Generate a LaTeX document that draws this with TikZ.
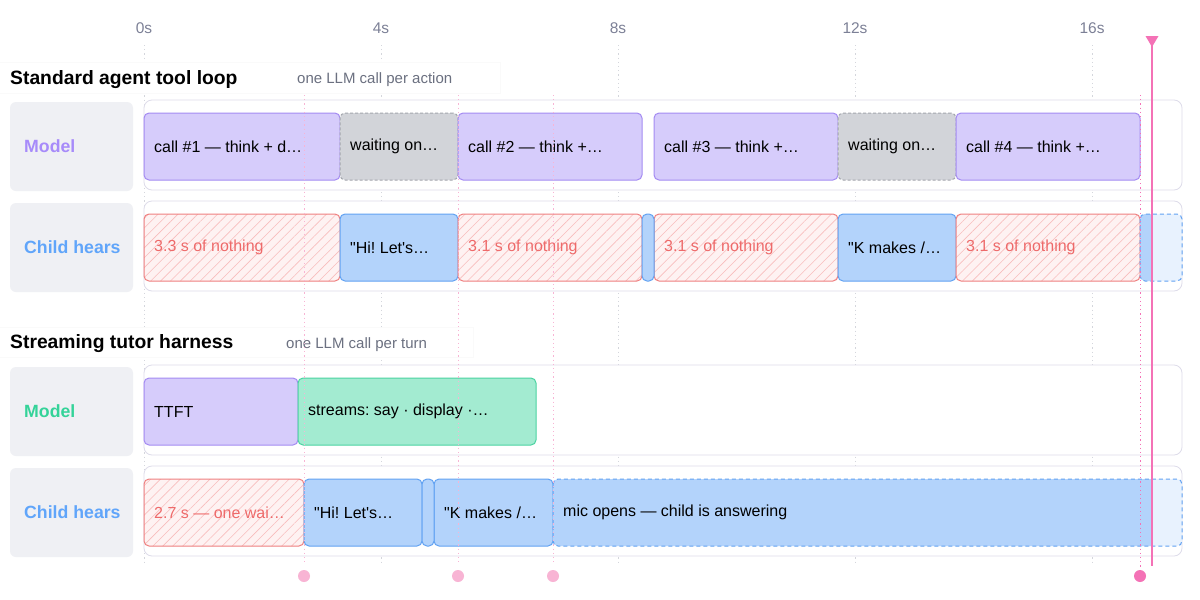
\documentclass[tikz,border=0pt]{standalone}
\usepackage{fontspec}
\setmainfont{Liberation Sans}[Ligatures=TeXOff]
\usetikzlibrary{patterns.meta}
\frenchspacing
\definecolor{callfill}{HTML}{D6CCFB}
\definecolor{calledge}{HTML}{A48BF2}
\definecolor{waitfill}{HTML}{D2D4D9}
\definecolor{waitedge}{HTML}{A3A6AD}
\definecolor{hearfill}{HTML}{B3D3FB}
\definecolor{hearedge}{HTML}{62A2F2}
\definecolor{livefill}{HTML}{E8F2FE}
\definecolor{streamfill}{HTML}{A3EBD1}
\definecolor{streamedge}{HTML}{4BD3A1}
\definecolor{gapfill}{HTML}{FEF2F2}
\definecolor{gaphatch}{HTML}{F8BDBD}
\definecolor{gapedge}{HTML}{EF8080}
\definecolor{gaptext}{HTML}{EE6A6A}
\definecolor{lanefill}{HTML}{EFF0F4}
\definecolor{trackedge}{HTML}{DEDCEA}
\definecolor{nowpink}{HTML}{F472B6}
\definecolor{cuepink}{HTML}{F8B4D4}
\definecolor{gridgray}{HTML}{D4D6DC}
\definecolor{ticktext}{HTML}{7C8096}
\definecolor{subtext}{HTML}{6B7080}
\definecolor{modelpurple}{HTML}{A78BFA}
\definecolor{modelgreen}{HTML}{34D399}
\definecolor{hearblue}{HTML}{60A5FA}
\begin{document}
\begin{tikzpicture}[x=1pt,y=-1pt,
  ticklbl/.style={anchor=base,inner sep=0pt,text=ticktext,font=\fontsize{15.5}{18}\selectfont},
  heading/.style={anchor=base west,inner sep=0pt,font=\fontsize{19.3}{22}\selectfont\bfseries},
  subhead/.style={anchor=base west,inner sep=0pt,text=subtext,font=\fontsize{15}{18}\selectfont},
  lanetxt/.style={anchor=west,inner sep=0pt,font=\fontsize{17.7}{20}\selectfont\bfseries},
  bartxt/.style={anchor=west,inner sep=0pt,font=\fontsize{16}{18}\selectfont},
  track/.style={draw=trackedge,fill=white,rounded corners=8pt,line width=.8pt},
  seg/.style={anchor=north west,minimum height=67pt,inner sep=0pt,outer sep=0pt,rounded corners=5pt,line width=1pt},
  callbar/.style={seg,draw=calledge,fill=callfill},
  waitbar/.style={seg,draw=waitedge,fill=waitfill,dash pattern=on 3pt off 2pt},
  hearbar/.style={seg,draw=hearedge,fill=hearfill},
  streambar/.style={seg,draw=streamedge,fill=streamfill},
  gapbar/.style={seg,draw=gapedge,preaction={fill=gapfill},
    pattern={Lines[angle=45,distance=7pt,line width=.6pt]},pattern color=gaphatch},
  livebar/.style={seg,fill=livefill},
  liveedge/.style={draw=hearedge,line width=1pt,rounded corners=5pt,dash pattern=on 4pt off 3pt},
  gridline/.style={gridgray,line width=.8pt,dash pattern=on 1.2pt off 3pt},
  cueline/.style={cuepink,line width=.9pt,dash pattern=on 1.2pt off 3pt},
  cuedot/.style={circle,fill=cuepink,minimum size=12pt,inner sep=0pt}
]
\useasboundingbox[fill=white] (0,0) rectangle (1200,600);

% time axis, 4 s a tick
\foreach \tk in {0,4,...,16}{
  \draw[gridline] ({144+\tk*59.25},45) -- ({144+\tk*59.25},565);
  \node[ticklbl] (tick\tk) at ({144+\tk*59.25},33) {\tk s};
}

% section headings
\fill[white,draw=black!2] (-1,62) rectangle (500,93);
\node[heading] (headA) at (10,84) {Standard agent tool loop};
\node[subhead] (subA) at (297,83) {one LLM call per action};
\fill[white,draw=black!2] (-1,327) rectangle (473,357);
\node[heading] (headB) at (10,348) {Streaming tutor harness};
\node[subhead] (subB) at (286,348) {one LLM call per turn};

% standard loop: model
\begin{scope}[shift={(0,100)}]
  \fill[lanefill,rounded corners=6pt] (10,2) rectangle (133,91);
  \node[lanetxt,text=modelpurple] (laneA1) at (24,46) {Model};
  \draw[track] (144,0) rectangle (1182,90);
  \foreach \nm/\xa/\xb/\st/\tc/\tx in {
      a1/144/340/callbar/black/{call \#1 — think + d…},
      a2/340/458/waitbar/black/{waiting on…},
      a3/458/642/callbar/black/{call \#2 — think +…},
      a4/654/838/callbar/black/{call \#3 — think +…},
      a5/838/956/waitbar/black/{waiting on…},
      a6/956/1140/callbar/black/{call \#4 — think +…}}{
    \node[\st,minimum width={(\xb-\xa)*1pt}] (\nm) at (\xa,13) {};
    \node[bartxt,text=\tc] (\nm-t) at ([xshift=10pt]\nm.west) {\tx};
  }
\end{scope}

% standard loop: what the child hears
\begin{scope}[shift={(0,201)}]
  \fill[lanefill,rounded corners=6pt] (10,2) rectangle (133,91);
  \node[lanetxt,text=hearblue] (laneA2) at (24,46) {Child hears};
  \draw[track] (144,0) rectangle (1182,90);
  \foreach \nm/\xa/\xb/\st/\tc/\tx in {
      b1/144/340/gapbar/gaptext/{3.3 s of nothing},
      b2/340/458/hearbar/black/{"Hi! Let's…},
      b3/458/642/gapbar/gaptext/{3.1 s of nothing},
      b5/654/838/gapbar/gaptext/{3.1 s of nothing},
      b6/838/956/hearbar/black/{"K makes /…},
      b7/956/1140/gapbar/gaptext/{3.1 s of nothing}}{
    \node[\st,minimum width={(\xb-\xa)*1pt}] (\nm) at (\xa,13) {};
    \node[bartxt,text=\tc] (\nm-t) at ([xshift=10pt]\nm.west) {\tx};
  }
  \node[hearbar,minimum width=12pt] (b4) at (642,13) {};
  \node[livebar,minimum width=42pt] (b8) at (1140,13) {};
  \begin{scope}
    \clip (1140,0) rectangle (1152,90);
    \fill[hearfill,rounded corners=5pt] (b8.north west) rectangle (b8.south east);
  \end{scope}
  \draw[liveedge] (b8.north west) rectangle (b8.south east);
\end{scope}

% streaming harness: model
\begin{scope}[shift={(0,365)}]
  \fill[lanefill,rounded corners=6pt] (10,2) rectangle (133,91);
  \node[lanetxt,text=modelgreen] (laneB1) at (24,46) {Model};
  \draw[track] (144,0) rectangle (1182,90);
  \node[callbar,minimum width=154pt] (c1) at (144,13) {};
  \node[bartxt] (c1-t) at ([xshift=10pt]c1.west) {TTFT};
  \node[streambar,minimum width=238pt] (c2) at (298,13) {};
  \node[bartxt] (c2-t) at ([xshift=10pt]c2.west) {streams: say · display ·…};
\end{scope}

% streaming harness: what the child hears
\begin{scope}[shift={(0,466)}]
  \fill[lanefill,rounded corners=6pt] (10,2) rectangle (133,91);
  \node[lanetxt,text=hearblue] (laneB2) at (24,46) {Child hears};
  \draw[track] (144,0) rectangle (1182,90);
  \foreach \nm/\xa/\xb/\st/\tc/\tx in {
      d1/144/304/gapbar/gaptext/{2.7 s — one wai…},
      d2/304/422/hearbar/black/{"Hi! Let's…},
      d4/434/553/hearbar/black/{"K makes /…}}{
    \node[\st,minimum width={(\xb-\xa)*1pt}] (\nm) at (\xa,13) {};
    \node[bartxt,text=\tc] (\nm-t) at ([xshift=10pt]\nm.west) {\tx};
  }
  \node[hearbar,minimum width=12pt] (d3) at (422,13) {};
  \node[livebar,minimum width=629pt] (d5) at (553,13) {};
  \begin{scope}
    \clip (553,0) rectangle (1152,90);
    \fill[hearfill,rounded corners=5pt] (d5.north west) rectangle (d5.south east);
  \end{scope}
  \draw[liveedge] (d5.north west) rectangle (d5.south east);
  \node[bartxt] (d5-t) at ([xshift=10pt]d5.west) {mic opens — child is answering};
\end{scope}

% cue marks along the bottom
\foreach \x/\nm in {304/q1,458/q2,553/q3}{
  \node[cuedot] (\nm) at (\x,576) {};
  \draw[cueline] (\x,95) -- (\x,565);
}
\node[cuedot,fill=nowpink] (q4) at (1140,576) {};
\draw[cueline,nowpink] (1140,95) -- (1140,568);

% now line
\coordinate (nowtop) at (1152,45);
\coordinate (nowbot) at (1152,566);
\draw[nowpink,line width=1.6pt] (nowtop) -- (nowbot);
\fill[nowpink] (1145.5,36) -- (1158.5,36) -- (1152,47) -- cycle;
\end{tikzpicture}
\end{document}
